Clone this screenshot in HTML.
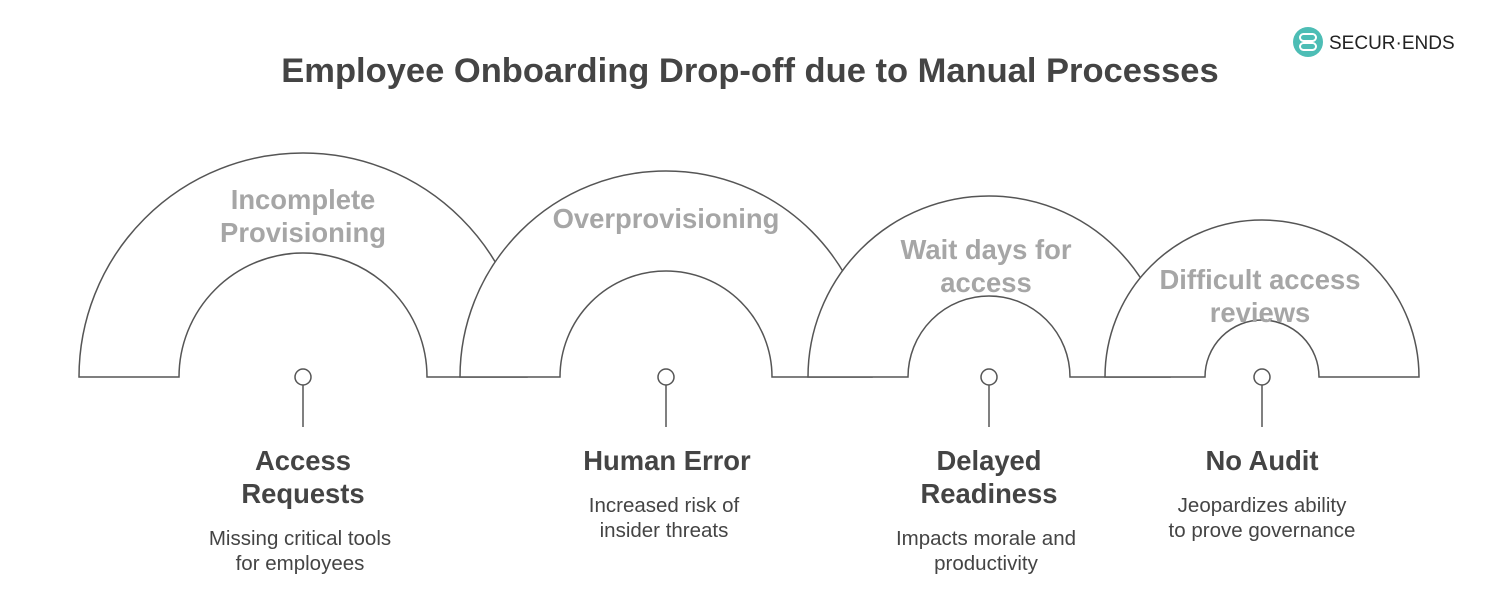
<!DOCTYPE html>
<html><head><style>body{margin:0;background:#fff}svg{display:block}</style></head><body>
<svg width="1500" height="600" viewBox="0 0 1500 600" xmlns="http://www.w3.org/2000/svg" font-family="Liberation Sans, sans-serif">
<text x="750" y="82" text-anchor="middle" font-size="34.5" font-weight="bold" fill="#444">Employee Onboarding Drop-off due to Manual Processes</text>
<g>
<rect x="1293" y="27" width="30" height="30" rx="15" fill="#4dbdb5"/>
<rect x="1300" y="34" width="16" height="7" rx="3.5" fill="none" stroke="#fff" stroke-width="2"/>
<rect x="1300" y="43" width="16" height="7" rx="3.5" fill="none" stroke="#fff" stroke-width="2"/>
<text x="1329" y="49" font-size="19" fill="#222">SECUR·ENDS</text>
</g>
<g fill="#fff" stroke="#555" stroke-width="1.5">
<path d="M79,377 A224,224 0 0 1 527,377 L427,377 A124,124 0 0 0 179,377 Z"/>
<path d="M460,377 A206,206 0 0 1 872,377 L772,377 A106,106 0 0 0 560,377 Z"/>
<path d="M808,377 A181,181 0 0 1 1170,377 L1070,377 A81,81 0 0 0 908,377 Z"/>
<path d="M1105,377 A157,157 0 0 1 1419,377 L1319,377 A57,57 0 0 0 1205,377 Z"/>
</g>
<g font-size="27.4" font-weight="bold" fill="#a6a6a6" text-anchor="middle">
<text x="303" y="209">Incomplete</text><text x="303" y="242">Provisioning</text>
<text x="666" y="228">Overprovisioning</text>
<text x="986" y="259">Wait days for</text><text x="986" y="292">access</text>
<text x="1260" y="289">Difficult access</text><text x="1260" y="322">reviews</text>
</g>
<g stroke="#555" stroke-width="1.5" fill="#fff">
<line x1="303" y1="385" x2="303" y2="427"/><circle cx="303" cy="377" r="8"/>
<line x1="666" y1="385" x2="666" y2="427"/><circle cx="666" cy="377" r="8"/>
<line x1="989" y1="385" x2="989" y2="427"/><circle cx="989" cy="377" r="8"/>
<line x1="1262" y1="385" x2="1262" y2="427"/><circle cx="1262" cy="377" r="8"/>
</g>
<g font-size="27.4" font-weight="bold" fill="#444" text-anchor="middle">
<text x="303" y="470">Access</text><text x="303" y="503">Requests</text>
<text x="667" y="470">Human Error</text>
<text x="989" y="470">Delayed</text><text x="989" y="503">Readiness</text>
<text x="1262" y="470">No Audit</text>
</g>
<g font-size="20.5" fill="#444" text-anchor="middle">
<text x="300" y="545">Missing critical tools</text><text x="300" y="570">for employees</text>
<text x="664" y="512">Increased risk of</text><text x="664" y="537">insider threats</text>
<text x="986" y="545">Impacts morale and</text><text x="986" y="570">productivity</text>
<text x="1262" y="512">Jeopardizes ability</text><text x="1262" y="537">to prove governance</text>
</g>
</svg>
</body></html>
